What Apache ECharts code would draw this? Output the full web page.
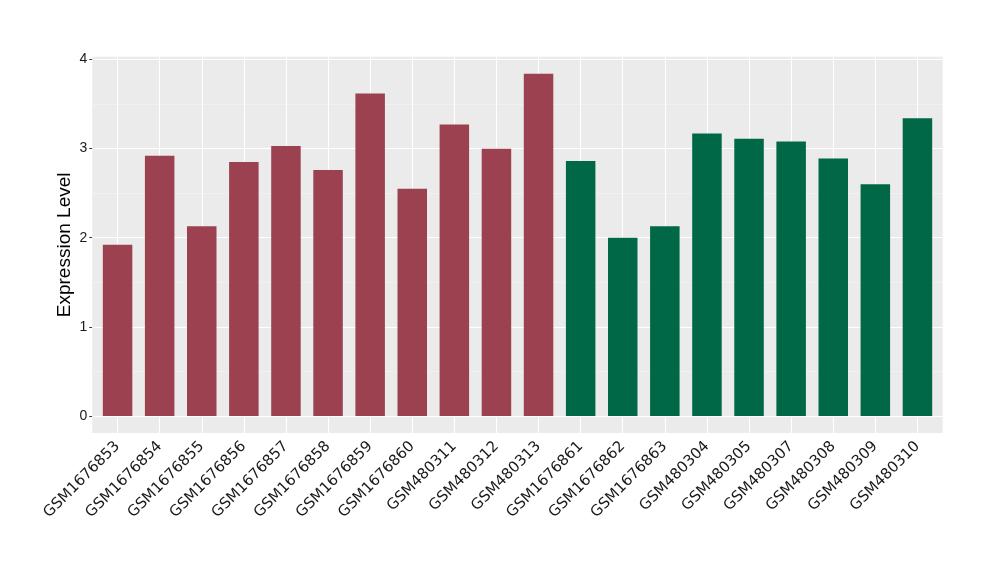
<!DOCTYPE html>
<html>
<head>
<meta charset="utf-8">
<script src="https://cdn.jsdelivr.net/npm/echarts@6/dist/echarts.min.js"></script>
<style>html,body{margin:0;padding:0;background:#fff}#c{width:1000px;height:580px}</style>
</head>
<body>
<div id="c"></div>
<script>
const categories = ['GSM1676853','GSM1676854','GSM1676855','GSM1676856','GSM1676857','GSM1676858','GSM1676859','GSM1676860','GSM480311','GSM480312','GSM480313','GSM1676861','GSM1676862','GSM1676863','GSM480304','GSM480305','GSM480307','GSM480308','GSM480309','GSM480310'];
const values = [1.92,2.92,2.13,2.85,3.03,2.76,3.62,2.55,3.27,3.00,3.84,2.86,2.00,2.13,3.17,3.11,3.08,2.89,2.60,3.34];
const groups = ['A','A','A','A','A','A','A','A','A','A','A','B','B','B','B','B','B','B','B','B'];
const groupColors = {A:'#9B4150', B:'#006747'};
const yTicks = [0,1,2,3,4];
const yMinor = [0.5,1.5,2.5,3.5];

const positions = categories.map((c,i)=>i+1);
const barData = values.map((v,i)=>({value:[positions[i], v], itemStyle:{color:groupColors[groups[i]]}}));
const yMin = -0.192, yMax = 4.032;

const chart = echarts.init(document.getElementById('c'), null, {renderer:'canvas'});
chart.setOption({
  animation:false,
  backgroundColor:'#ffffff',
  grid:{left:92.3, right:57.3, top:56.7, bottom:147, show:true, backgroundColor:'#EBEBEB', borderWidth:0, containLabel:false},
  xAxis:{
    type:'value', min:0.4, max:20.6,
    axisLine:{show:false},
    splitLine:{show:false},
    axisTick:{show:true, customValues:positions, length:3, lineStyle:{color:'#333333', width:1}},
    axisLabel:{customValues:positions, rotate:45, fontFamily:'DejaVu Sans', fontSize:15, color:'#1a1a1a', margin:11,
      formatter:(v)=>categories[Math.round(v)-1] || ''}
  },
  yAxis:{
    type:'value', min:yMin, max:yMax,
    name:'Expression Level', nameLocation:'middle', nameRotate:90, nameGap:18, nameMoveOverlap:false,
    nameTextStyle:{fontFamily:'Liberation Sans', fontSize:19, color:'#000'},
    axisLine:{show:false},
    splitLine:{show:false},
    axisTick:{show:true, customValues:yTicks, length:3, lineStyle:{color:'#333333', width:1}},
    axisLabel:{customValues:yTicks, fontFamily:'Liberation Sans', fontSize:14, color:'#1a1a1a', margin:5}
  },
  series:[
    {
      type:'line', data:[], z:1, silent:true,
      markLine:{
        z:1, silent:true, symbol:'none', animation:false, label:{show:false},
        data:[
          ...yMinor.map(v=>({yAxis:v, lineStyle:{color:'#F5F5F5', width:0.6, type:'solid'}})),
          ...yTicks.map(v=>({yAxis:v, lineStyle:{color:'#FFFFFF', width:1.1, type:'solid'}})),
          ...positions.map(v=>({xAxis:v, lineStyle:{color:'#FFFFFF', width:1.1, type:'solid'}}))
        ]
      }
    },
    {
      type:'bar', data:barData, barWidth:29.5, z:3
    }
  ]
});
</script>
</body>
</html>
